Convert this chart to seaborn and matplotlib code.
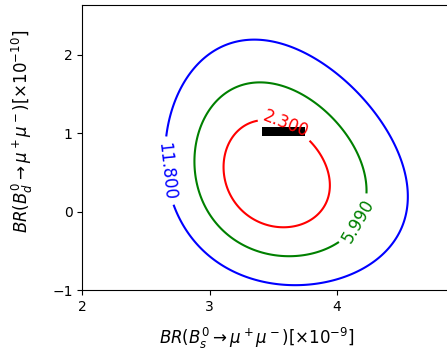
import numpy as np
import matplotlib
matplotlib.use("Agg")
import matplotlib.pyplot as plt
import seaborn as sns

# chi-square levels and their colours
levels = [2.3, 5.99, 11.8]
level_colors = ["red", "green", "blue"]

# fit parameters (best fit, widths, skew, correlation)
bs_best = 3.51
bd_best = 0.45
bs_sigma = 0.275
bd_sigma = 0.45
bs_skew = 0.029
bd_skew = 0.033
rho = -0.17

# SM prediction box
sm_bs = [3.41, 3.75]
sm_bd = [0.96, 1.08]

# contour-label anchor points
label_bs = [3.61, 4.16, 2.73]
label_bd = [1.15, -0.11, 0.53]

x_ticks = [2, 3, 4]
y_ticks = [-1, 0, 1, 2]

sns.set_style("ticks", rc={"axes.edgecolor": "black", "text.color": "black",
                           "axes.labelcolor": "black", "xtick.color": "black",
                           "ytick.color": "black", "axes.linewidth": 1.0})
plt.rcParams["font.family"] = ["DejaVu Sans"]
plt.rcParams["xtick.major.size"] = 3.5
plt.rcParams["ytick.major.size"] = 3.5

xs = np.linspace(2.0, 5.0, 500)
ys = np.linspace(-1.0, 2.7, 500)
X, Y = np.meshgrid(xs, ys)
dx = X - bs_best
dy = Y - bd_best
u = dx / (bs_sigma + bs_skew * dx)
v = dy / (bd_sigma + bd_skew * dy)
chi2 = (u ** 2 - 2 * rho * u * v + v ** 2) / (1 - rho ** 2)

fig = plt.figure(figsize=(4.47, 3.56), dpi=100)
ax = fig.add_axes([82.3 / 447, 66 / 356, 381.6 / 447, 284.6 / 356])

cs = ax.contour(X, Y, chi2, levels=levels, colors=level_colors, linewidths=1.5)
ax.fill_between(sm_bs, [sm_bd[0]] * 2, [sm_bd[1]] * 2, color="black", lw=0)
ax.clabel(cs, fmt="%1.3f", fontsize=12,
          manual=list(zip(label_bs, label_bd)))

ax.set_xlim(2, 5)
ax.set_ylim(-1, 2.63)
ax.set_xticks(x_ticks)
ax.set_yticks(y_ticks)
ax.tick_params(labelsize=10)
ax.set_xlabel(r"$BR(B_s^0\rightarrow\mu^+\mu^-)[\times10^{-9}]$", fontsize=12)
ax.set_ylabel(r"$BR(B_d^0\rightarrow\mu^+\mu^-)[\times10^{-10}]$", fontsize=12)
ax.xaxis.set_label_coords(0.4565, -0.1247)
ax.yaxis.set_label_coords(-0.1227, 0.556)

fig.savefig("out.png", dpi=100)
